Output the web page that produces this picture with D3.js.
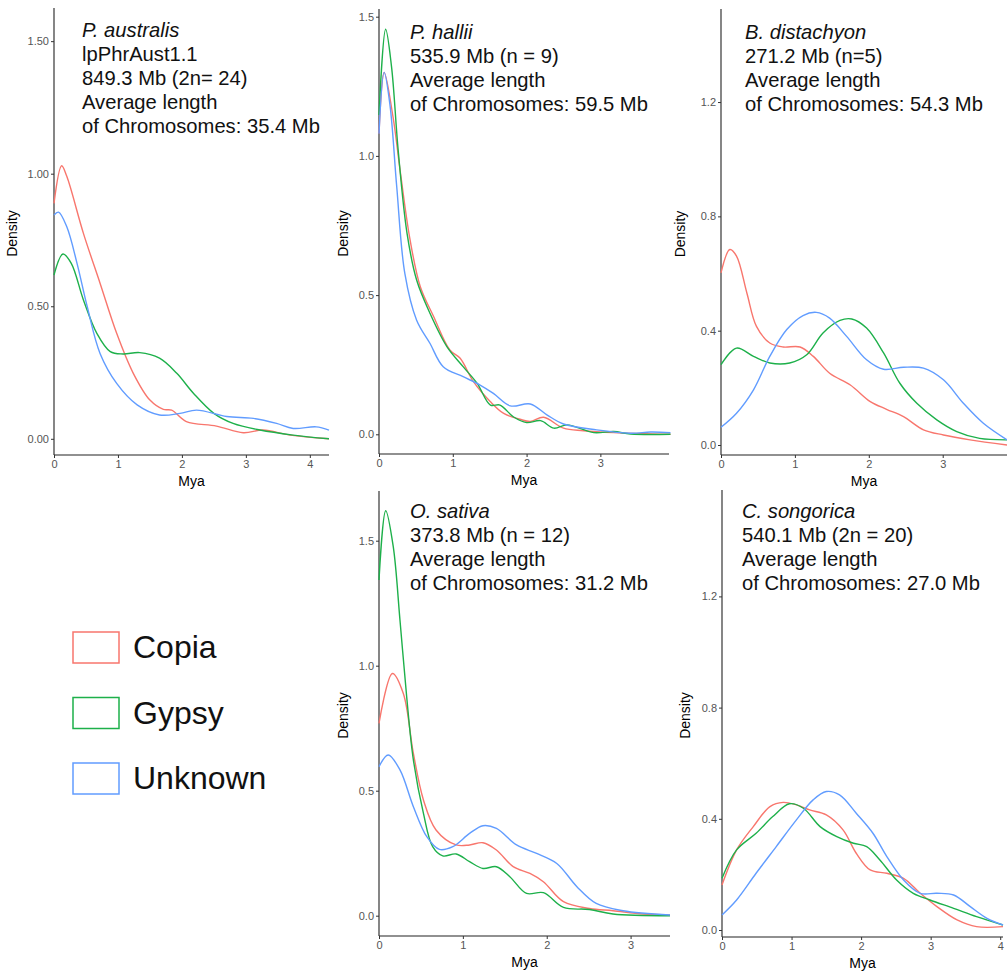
<!DOCTYPE html>
<html>
<head>
<meta charset="utf-8">
<script src="https://cdn.jsdelivr.net/npm/d3@7"></script>
<style>
  body { margin: 0; background: #fff; }
  svg { font-family: "Liberation Sans", Arial, sans-serif; }
</style>
</head>
<body>
<div id="chart"></div>
<script>
// series names + colours (ggplot defaults)
const families = ["Copia", "Gypsy", "Unknown"];
const colors = ["#F8766D", "#1DB04A", "#619CFF"];

// P. australis  [Mya, density]
const australisCopia = [[0,0.888],[0.12,1.03],[0.2,0.99],[0.46,0.775],[0.72,0.587],[0.98,0.398],[1.24,0.247],[1.5,0.146],[1.71,0.111],[1.84,0.108],[2.07,0.065],[2.54,0.048],[2.96,0.023],[3.27,0.033],[3.69,0.014],[4.3,0.0]];
const australisGypsy = [[0,0.618],[0.14,0.697],[0.27,0.662],[0.46,0.524],[0.67,0.398],[0.88,0.329],[1.08,0.32],[1.34,0.325],[1.65,0.304],[1.92,0.247],[2.18,0.172],[2.5,0.096],[2.8,0.058],[3.22,0.033],[3.74,0.014],[4.3,0.0]];
const australisUnknown = [[0,0.844],[0.07,0.855],[0.2,0.8],[0.36,0.662],[0.52,0.498],[0.72,0.322],[0.98,0.209],[1.3,0.128],[1.65,0.09],[1.97,0.096],[2.23,0.108],[2.7,0.084],[3.12,0.077],[3.48,0.058],[3.74,0.039],[4.1,0.045],[4.3,0.033]];

// P. hallii
const halliiCopia = [[0,1.08],[0.07,1.30],[0.19,1.14],[0.29,0.94],[0.42,0.70],[0.56,0.53],[0.74,0.423],[0.96,0.303],[1.1,0.273],[1.28,0.189],[1.51,0.117],[1.69,0.075],[1.91,0.054],[2.05,0.046],[2.23,0.061],[2.5,0.022],[2.77,0.013],[3.18,0.006],[3.95,0.0]];
const halliiGypsy = [[0,1.147],[0.09,1.455],[0.17,1.32],[0.26,1.02],[0.38,0.722],[0.51,0.554],[0.69,0.435],[0.92,0.315],[1.14,0.243],[1.33,0.183],[1.51,0.105],[1.64,0.105],[1.82,0.063],[2.0,0.042],[2.19,0.049],[2.37,0.022],[2.55,0.034],[2.91,0.006],[3.18,0.01],[3.41,0.001],[3.95,0.0]];
const halliiUnknown = [[0,1.08],[0.07,1.30],[0.15,1.18],[0.24,0.89],[0.35,0.578],[0.51,0.41],[0.69,0.327],[0.87,0.243],[1.14,0.207],[1.37,0.177],[1.55,0.147],[1.78,0.102],[2.05,0.109],[2.28,0.069],[2.5,0.037],[2.95,0.016],[3.41,0.004],[3.68,0.008],[3.95,0.006]];

// B. distachyon
const distachyonCopia = [[0,0.602],[0.12,0.684],[0.21,0.661],[0.35,0.532],[0.48,0.415],[0.66,0.357],[0.84,0.343],[1.07,0.343],[1.25,0.31],[1.47,0.251],[1.75,0.21],[2.02,0.152],[2.24,0.125],[2.47,0.099],[2.74,0.053],[3.01,0.035],[3.37,0.018],[3.87,0.0]];
const distachyonGypsy = [[0,0.281],[0.21,0.339],[0.44,0.31],[0.66,0.287],[0.93,0.287],[1.16,0.316],[1.38,0.392],[1.61,0.436],[1.77,0.441],[1.97,0.409],[2.2,0.322],[2.42,0.216],[2.65,0.146],[2.92,0.088],[3.19,0.047],[3.5,0.023],[3.87,0.018]];
const distachyonUnknown = [[0,0.062],[0.21,0.111],[0.44,0.193],[0.66,0.31],[0.89,0.404],[1.11,0.453],[1.29,0.464],[1.47,0.444],[1.7,0.38],[1.97,0.298],[2.2,0.265],[2.47,0.272],[2.74,0.269],[3.01,0.228],[3.28,0.146],[3.55,0.076],[3.87,0.018]];

// O. sativa
const sativaCopia = [[0,0.769],[0.16,0.969],[0.29,0.889],[0.41,0.649],[0.53,0.463],[0.68,0.343],[0.92,0.283],[1.08,0.283],[1.24,0.292],[1.4,0.263],[1.6,0.196],[1.8,0.169],[1.96,0.136],[2.2,0.056],[2.51,0.029],[2.79,0.02],[3.15,0.007],[3.47,0.003]];
const sativaGypsy = [[0,1.343],[0.08,1.62],[0.17,1.476],[0.25,1.183],[0.33,0.876],[0.41,0.623],[0.53,0.409],[0.64,0.276],[0.76,0.239],[0.92,0.247],[1.08,0.216],[1.24,0.189],[1.4,0.196],[1.56,0.156],[1.76,0.089],[1.96,0.092],[2.2,0.033],[2.51,0.025],[2.79,0.007],[3.47,0.0]];
const sativaUnknown = [[0,0.596],[0.11,0.643],[0.25,0.583],[0.41,0.436],[0.57,0.316],[0.72,0.265],[0.88,0.276],[1.08,0.329],[1.24,0.36],[1.4,0.349],[1.64,0.283],[1.88,0.249],[2.12,0.209],[2.36,0.116],[2.59,0.049],[2.91,0.02],[3.47,0.003]];

// C. songorica
const songoricaCopia = [[0,0.162],[0.21,0.288],[0.45,0.372],[0.69,0.444],[0.88,0.459],[1.07,0.45],[1.26,0.432],[1.5,0.414],[1.74,0.36],[1.93,0.276],[2.13,0.216],[2.37,0.204],[2.61,0.186],[2.85,0.132],[3.09,0.084],[3.38,0.036],[3.66,0.012],[4.04,0.012]];
const songoricaGypsy = [[0,0.186],[0.21,0.288],[0.49,0.348],[0.73,0.408],[0.97,0.454],[1.17,0.438],[1.41,0.372],[1.65,0.336],[1.89,0.312],[2.08,0.3],[2.27,0.252],[2.51,0.18],[2.75,0.132],[2.99,0.108],[3.33,0.078],[3.66,0.048],[4.04,0.018]];
const songoricaUnknown = [[0,0.054],[0.21,0.108],[0.49,0.204],[0.78,0.3],[1.07,0.396],[1.31,0.468],[1.5,0.498],[1.69,0.486],[1.93,0.42],[2.17,0.348],[2.37,0.264],[2.61,0.18],[2.85,0.132],[3.09,0.132],[3.33,0.126],[3.57,0.084],[3.81,0.042],[4.04,0.018]];

// tick labels
const yTicksAustralis = ["0.00","0.50","1.00","1.50"];
const yTicksHalf = ["0.0","0.5","1.0","1.5"];
const yTicksFourth = ["0.0","0.4","0.8","1.2"];

const width = 1007, height = 972;

const panels = [
  { title: "P. australis", lines: ["lpPhrAust1.1", "849.3 Mb (2n= 24)", "Average length", "of Chromosomes: 35.4 Mb"],
    series: [australisCopia, australisGypsy, australisUnknown],
    yTicks: yTicksAustralis, xTicks: [0,1,2,3,4],
    left: 54, right: 329, top: 8, bottom: 455,
    x0: 0, x1: 4.3, yAt0: 438.8, yAt1: 173.7, yLab: 17, textX: 82, textY: 37 },
  { title: "P. hallii", lines: ["535.9 Mb (n = 9)", "Average length", "of Chromosomes: 59.5 Mb"],
    series: [halliiCopia, halliiGypsy, halliiUnknown],
    yTicks: yTicksHalf, xTicks: [0,1,2,3],
    left: 379, right: 669, top: 9, bottom: 454,
    x0: 0, x1: 3.93, yAt0: 434.3, yAt1: 155.9, yLab: 348, textX: 410, textY: 39 },
  { title: "B. distachyon", lines: ["271.2 Mb (n=5)", "Average length", "of Chromosomes: 54.3 Mb"],
    series: [distachyonCopia, distachyonGypsy, distachyonUnknown],
    yTicks: yTicksFourth, xTicks: [0,1,2,3],
    left: 721, right: 1007, top: 9, bottom: 455,
    x0: 0, x1: 3.87, yAt0: 445, yAt1: 159.2, yLab: 685, textX: 745, textY: 39 },
  { title: "O. sativa", lines: ["373.8 Mb (n = 12)", "Average length", "of Chromosomes: 31.2 Mb"],
    series: [sativaCopia, sativaGypsy, sativaUnknown],
    yTicks: yTicksHalf, xTicks: [0,1,2,3],
    left: 379, right: 670, top: 491, bottom: 936,
    x0: 0, x1: 3.47, yAt0: 915.7, yAt1: 665.7, yLab: 348, textX: 410, textY: 518 },
  { title: "C. songorica", lines: ["540.1 Mb (2n = 20)", "Average length", "of Chromosomes: 27.0 Mb"],
    series: [songoricaCopia, songoricaGypsy, songoricaUnknown],
    yTicks: yTicksFourth, xTicks: [0,1,2,3,4],
    left: 722, right: 1003, top: 490, bottom: 937,
    x0: 0, x1: 4.04, yAt0: 930, yAt1: 652, yLab: 690, textX: 742, textY: 518 }
];

const svg = d3.select("#chart").append("svg")
  .attr("width", width).attr("height", height);

panels.forEach(p => {
  const x = d3.scaleLinear().domain([p.x0, p.x1]).range([p.left, p.right]);
  const y = d3.scaleLinear().domain([0, 1]).range([p.yAt0, p.yAt1]);
  const g = svg.append("g");

  const yVals = p.yTicks.map(t => +t);

  // axes
  const xAxis = g.append("g").attr("transform", `translate(0,${p.bottom})`)
    .call(d3.axisBottom(x).tickValues(p.xTicks).tickSize(3).tickPadding(2).tickFormat(d3.format("d")));
  const yAxis = g.append("g").attr("transform", `translate(${p.left},0)`)
    .call(d3.axisLeft(y).tickValues(yVals).tickSize(3).tickPadding(2).tickFormat((d, i) => p.yTicks[i]));
  xAxis.select(".domain").attr("d", `M${p.left},0H${p.right}`);
  yAxis.select(".domain").attr("d", `M0,${p.top}V${p.bottom}`);
  [xAxis, yAxis].forEach(a => {
    a.select(".domain").attr("stroke", "#222").attr("stroke-width", 1.1);
    a.selectAll(".tick line").attr("stroke", "#333");
    a.selectAll(".tick text").attr("fill", "#555").style("font-size", "11px")
      .style("font-family", "Liberation Sans, Arial, sans-serif");
  });

  // axis titles
  g.append("text").attr("x", (p.left + p.right) / 2).attr("y", p.bottom + 31)
    .attr("text-anchor", "middle").style("font-size", "14px").text("Mya");
  g.append("text").attr("transform", `translate(${p.yLab},${(p.top + p.bottom) / 2 + 2}) rotate(-90)`)
    .attr("text-anchor", "middle").style("font-size", "14px").text("Density");

  // density curves
  const line = d3.line().x(d => x(d[0])).y(d => y(d[1])).curve(d3.curveCatmullRom.alpha(0.5));
  p.series.forEach((s, i) => {
    g.append("path").datum(s).attr("d", line)
      .attr("fill", "none").attr("stroke", colors[i]).attr("stroke-width", 1.4);
  });

  // annotation
  const txt = g.append("text").attr("x", p.textX).attr("y", p.textY)
    .style("font-size", "20.2px").attr("fill", "#111");
  txt.append("tspan").attr("x", p.textX).style("font-style", "italic").text(p.title);
  p.lines.forEach(l => txt.append("tspan").attr("x", p.textX).attr("dy", 24).text(l));
});

// legend
const legend = svg.append("g");
families.forEach((f, i) => {
  const row = legend.append("g").attr("transform", `translate(73,${632 + i * 65.5})`);
  row.append("rect").attr("width", 46).attr("height", 31)
    .attr("fill", "#fff").attr("stroke", colors[i]).attr("stroke-width", 1.5);
  row.append("text").attr("x", 60).attr("y", 26).style("font-size", "32px").attr("fill", "#111").text(f);
});
</script>
</body>
</html>
